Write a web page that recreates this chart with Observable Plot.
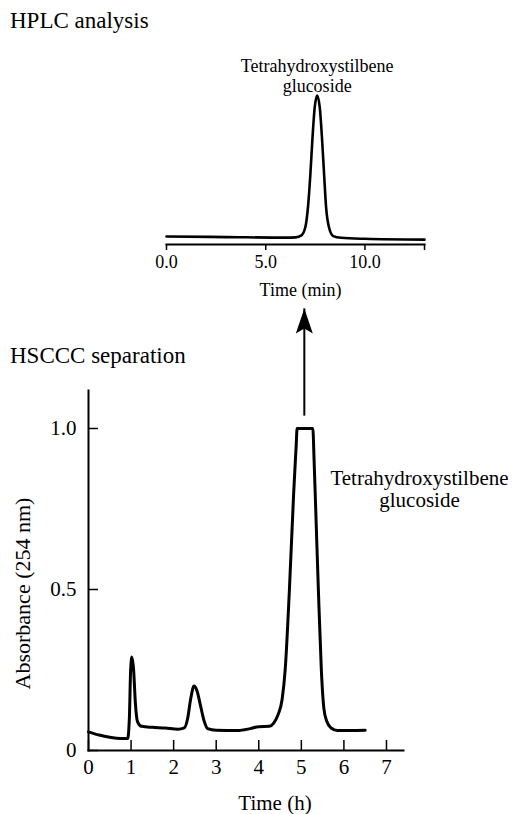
<!DOCTYPE html>
<html>
<head>
<meta charset="utf-8">
<script src="https://cdn.jsdelivr.net/npm/d3@7"></script>
<script src="https://cdn.jsdelivr.net/npm/@observablehq/plot@0.6"></script>
<style>
html, body { margin: 0; padding: 0; background: #fff; }
#wrap { position: relative; width: 512px; height: 814px; font-family: "Liberation Serif", "Times New Roman", Times, "DejaVu Serif", serif; color: #000; overflow: hidden; }
.title { position: absolute; left: 10px; font-size: 23px; line-height: 23px; white-space: nowrap; }
#top { position: absolute; left: 0; top: 0; }
#bottom { position: absolute; left: 0; top: 300px; }
#wrap svg, #wrap svg text { font-family: "Liberation Serif", "Times New Roman", Times, "DejaVu Serif", serif !important; }
</style>
</head>
<body>
<div id="wrap">
  <div id="top"></div>
  <div id="bottom"></div>
  <div class="title" id="t1"></div>
  <div class="title" id="t2"></div>
</div>
<script>
// ---------- text ----------
const hplcTitle = "HPLC analysis";
const hscccTitle = "HSCCC separation";
const compoundName = "Tetrahydroxystilbene\nglucoside";
const hplcXLabel = "Time (min)";
const hscccXLabel = "Time (h)";
const hscccYLabel = "Absorbance (254 nm)";

// ---------- HPLC chromatogram (time in min, relative signal) ----------
const hplcTime   = [0, 3, 6, 6.5, 6.8, 7.0, 7.13, 7.25, 7.35, 7.47, 7.59, 7.72, 7.84, 7.94, 8.04, 8.18, 8.4, 8.8, 10, 13];
const hplcSignal = [0.012, 0.008, 0.004, 0.006, 0.02, 0.08, 0.22, 0.45, 0.69, 0.92, 1.0, 0.92, 0.69, 0.45, 0.22, 0.08, 0.015, 0.003, -0.004, -0.01];
const hplcTicks = [0, 5, 10, 13];
const hplcTickLabels = ["0.0", "5.0", "10.0", ""];

// ---------- HSCCC separation (time in h, absorbance at 254 nm) ----------
const hscccTime = [0, 0.25, 0.5, 0.75, 0.92, 0.96, 0.99, 1.02, 1.06, 1.1, 1.15, 1.25, 1.5, 1.8, 2.1, 2.25, 2.33, 2.4, 2.48, 2.55, 2.63, 2.72, 2.8, 3.0, 3.5, 3.8, 4.0, 4.25, 4.35, 4.45, 4.55, 4.62, 4.72, 4.82, 4.88, 4.9, 5.27, 5.3, 5.35, 5.4, 5.47, 5.53, 5.6, 5.7, 5.85, 6.5];
const hscccAbs  = [0.058, 0.048, 0.041, 0.037, 0.037, 0.1, 0.25, 0.29, 0.25, 0.15, 0.09, 0.075, 0.072, 0.07, 0.066, 0.07, 0.1, 0.16, 0.2, 0.185, 0.14, 0.09, 0.068, 0.063, 0.062, 0.068, 0.074, 0.075, 0.085, 0.11, 0.16, 0.25, 0.5, 0.8, 0.95, 1.0, 1.0, 0.9, 0.7, 0.5, 0.25, 0.13, 0.09, 0.07, 0.062, 0.063];
const hscccXTicks = [0, 1, 2, 3, 4, 5, 6, 7];
const hscccYTicks = [0, 0.5, 1.0];
const hscccYTickLabels = ["0", "0.5", "1.0"];

// arrow from the collected fraction (h, absorbance units) up to the HPLC panel
const arrowTime = [5.07];
const arrowFrom = [1.04];
const arrowTo = [1.373];

// ---------- build ----------
const FONT = "'Liberation Serif', 'Times New Roman', Times, 'DejaVu Serif', serif";
document.getElementById("t1").textContent = hplcTitle;
document.getElementById("t2").textContent = hscccTitle;
document.getElementById("t1").style.top = "9px";
document.getElementById("t2").style.top = "344px";

const hplcRows = hplcTime.map((t, i) => ({t, v: hplcSignal[i]}));
const hplcPeak = hplcRows.reduce((a, b) => (b.v > a.v ? b : a));
const hplcLabelMap = new Map(hplcTicks.map((t, i) => [t, hplcTickLabels[i]]));

const topPlot = Plot.plot({
  width: 512,
  height: 300,
  marginLeft: 166,
  marginRight: 88,
  marginTop: 95,
  marginBottom: 56,
  style: {fontFamily: FONT, fontSize: "18px", color: "#000", background: "transparent", overflow: "visible"},
  x: {domain: [0, 13]},
  y: {domain: [-0.044, 1], axis: null},
  marks: [
    Plot.frame({anchor: "bottom", strokeWidth: 2}),
    Plot.axisX({ticks: hplcTicks, tickFormat: d => hplcLabelMap.get(d), tickSize: 6, tickPadding: 5, label: null, fontSize: 18, strokeWidth: 1.5}),
    Plot.line(hplcRows, {x: "t", y: "v", strokeWidth: 2.6, curve: "monotone-x"}),
    Plot.text([hplcPeak], {x: "t", y: "v", text: () => compoundName, textAnchor: "middle", lineAnchor: "bottom", dy: -4, fontSize: 18, lineHeight: 1.1}),
    Plot.text([hplcXLabel], {frameAnchor: "bottom", textAnchor: "middle", lineAnchor: "middle", dx: 5, dy: 46, fontSize: 18})
  ]
});
document.getElementById("top").appendChild(topPlot);

const hscccRows = hscccTime.map((t, i) => ({t, v: hscccAbs[i]}));
const arrowRows = arrowTime.map((t, i) => ({t, from: arrowFrom[i], to: arrowTo[i]}));
const yLabelMap = new Map(hscccYTicks.map((t, i) => [t, hscccYTickLabels[i]]));

const arrowHead = {
  draw(context) {
    context.moveTo(0, 0);
    context.lineTo(-8.5, 25);
    context.lineTo(0, 20);
    context.lineTo(8.5, 25);
    context.closePath();
  }
};

const bottomPlot = Plot.plot({
  width: 512,
  height: 514,
  marginLeft: 88,
  marginRight: 109,
  marginTop: 90,
  marginBottom: 64,
  style: {fontFamily: FONT, fontSize: "21px", color: "#000", background: "transparent", overflow: "visible"},
  x: {domain: [0, 7.4]},
  y: {domain: [0, 1.118]},
  marks: [
    Plot.frame({anchor: "left", strokeWidth: 2}),
    Plot.frame({anchor: "bottom", strokeWidth: 2}),
    Plot.axisY({ticks: hscccYTicks, tickFormat: d => yLabelMap.get(d), tickSize: -10, tickPadding: 22, label: null, fontSize: 21, strokeWidth: 1.5}),
    Plot.axisX({ticks: hscccXTicks, tickSize: -10, tickPadding: 19, label: null, fontSize: 21, strokeWidth: 1.5}),
    Plot.line(hscccRows, {x: "t", y: "v", strokeWidth: 3, curve: "monotone-x"}),
    Plot.link(arrowRows, {x1: "t", y1: "from", x2: "t", y2: "to", strokeWidth: 2}),
    Plot.dot(arrowRows, {x: "t", y: "to", symbol: arrowHead, r: 1, fill: "#000", stroke: "none"}),
    Plot.text([compoundName], {frameAnchor: "top-right", textAnchor: "middle", lineAnchor: "middle", dx: 16, dy: 98.6, fontSize: 21, lineHeight: 1.04}),
    Plot.text([hscccYLabel], {frameAnchor: "left", textAnchor: "middle", lineAnchor: "middle", rotate: -90, dx: -66, dy: 23, fontSize: 22}),
    Plot.text([hscccXLabel], {frameAnchor: "bottom", textAnchor: "middle", lineAnchor: "middle", dx: 29, dy: 53, fontSize: 21})
  ]
});
document.getElementById("bottom").appendChild(bottomPlot);
</script>
</body>
</html>
